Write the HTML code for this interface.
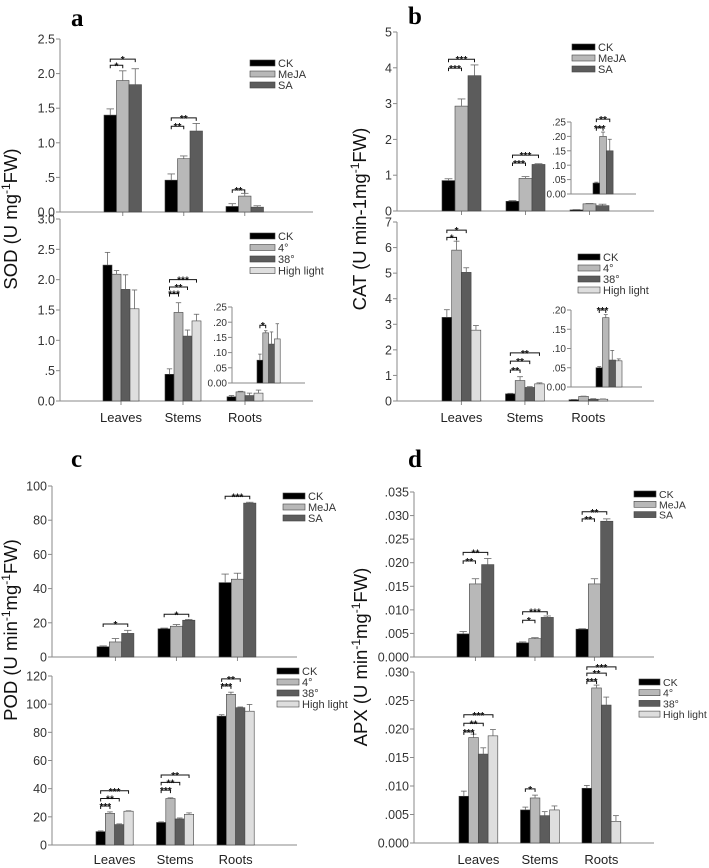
<!DOCTYPE html>
<html><head><meta charset="utf-8"><style>
html,body{margin:0;padding:0;background:#fff}
svg{display:block;font-family:"Liberation Sans",sans-serif}
</style></head><body>
<svg id="fig" width="709" height="868" viewBox="0 0 709 868"></svg>
<script>
const groups=["Leaves","Stems","Roots"];
const treat3=["CK","MeJA","SA"];
const treat4=["CK","4°","38°","High light"];
const colors3=["#000000","#b8b8b8","#5c5c5c"];
const colors4=["#000000","#b8b8b8","#5c5c5c","#dedede"];
// Panel a
const aTopCK=[1.40,0.46,0.08], aTopMeJA=[1.90,0.77,0.23], aTopSA=[1.84,1.17,0.07];
const aTopErrCK=[0.09,0.09,0.04], aTopErrMeJA=[0.14,0.04,0.04], aTopErrSA=[0.23,0.11,0.02];
const aBotCK=[2.24,0.44,0.07], aBot4=[2.09,1.46,0.15], aBot38=[1.84,1.07,0.09], aBotHL=[1.52,1.32,0.13];
const aBotErrCK=[0.21,0.09,0.02], aBotErr4=[0.06,0.16,0.01], aBotErr38=[0.24,0.10,0.04], aBotErrHL=[0.31,0.11,0.05];
const aInsetVals=[0.075,0.165,0.128,0.145], aInsetErr=[0.02,0.007,0.04,0.05];
const aTopTicks=[0,0.5,1,1.5,2,2.5], aTopTickLabels=["0.0",".5","1.0","1.5","2.0","2.5"];
const aBotTicks=[0,0.5,1,1.5,2,2.5,3], aBotTickLabels=["0.0",".5","1.0","1.5","2.0","2.5","3.0"];
const aInsetTicks=[0,0.05,0.1,0.15,0.2,0.25], aInsetTickLabels=["0.00",".05",".10",".15",".20",".25"];
// Panel b
const bTopCK=[0.85,0.27,0.03], bTopMeJA=[2.93,0.91,0.2], bTopSA=[3.78,1.30,0.15];
const bTopErrCK=[0.05,0.02,0.01], bTopErrMeJA=[0.20,0.05,0.01], bTopErrSA=[0.30,0.02,0.04];
const bBotCK=[3.27,0.28,0.05], bBot4=[5.90,0.80,0.18], bBot38=[5.03,0.53,0.07], bBotHL=[2.77,0.67,0.07];
const bBotErrCK=[0.30,0.02,0.01], bBotErr4=[0.35,0.15,0.01], bBotErr38=[0.18,0.03,0.02], bBotErrHL=[0.18,0.04,0.01];
const bInsetTopVals=[0.038,0.20,0.15], bInsetTopErr=[0.003,0.015,0.04];
const bInsetBotVals=[0.05,0.18,0.07,0.068], bInsetBotErr=[0.003,0.008,0.025,0.005];
const bTopTicks=[0,1,2,3,4,5], bTopTickLabels=["0","1","2","3","4","5"];
const bBotTicks=[0,1,2,3,4,5,6,7], bBotTickLabels=["0","1","2","3","4","5","6","7"];
const bInsetTopTicks=[0,0.05,0.1,0.15,0.2,0.25], bInsetTopTickLabels=["0.00",".05",".10",".15",".20",".25"];
const bInsetBotTicks=[0,0.05,0.1,0.15,0.2], bInsetBotTickLabels=["0.00",".05",".10",".15",".20"];
// Panel c
const cTopCK=[6,16.5,43.5], cTopMeJA=[8.8,18,45.5], cTopSA=[13.8,21.5,90];
const cTopErrCK=[0.5,0.4,5], cTopErrMeJA=[2,1,3.5], cTopErrSA=[1.8,0.5,0.5];
const cBotCK=[9.5,16,91.5], cBot4=[22.5,33,107], cBot38=[14.5,18.5,97.5], cBotHL=[24,21.8,95];
const cBotErrCK=[0.5,0.4,1], cBotErr4=[1,0.5,1.5], cBotErr38=[0.5,0.7,0.5], cBotErrHL=[0.3,1,4.8];
const cTopTicks=[0,20,40,60,80,100], cTopTickLabels=["0","20","40","60","80","100"];
const cBotTicks=[0,20,40,60,80,100,120], cBotTickLabels=["0","20","40","60","80","100","120"];
// Panel d
const dTopCK=[0.0049,0.0030,0.0059], dTopMeJA=[0.0155,0.0039,0.0155], dTopSA=[0.0196,0.0084,0.0288];
const dTopErrCK=[0.0005,0.0002,0.0001], dTopErrMeJA=[0.0011,0.0002,0.0011], dTopErrSA=[0.0013,0.0003,0.0005];
const dBotCK=[0.0082,0.0058,0.0096], dBot4=[0.0185,0.0079,0.0272], dBot38=[0.0156,0.0048,0.0242], dBotHL=[0.0188,0.0058,0.0038];
const dBotErrCK=[0.0009,0.0005,0.0005], dBotErr4=[0.0006,0.0005,0.0005], dBotErr38=[0.0011,0.0007,0.0014], dBotErrHL=[0.0011,0.0007,0.0010];
const dTopTicks=[0,0.005,0.01,0.015,0.02,0.025,0.03,0.035], dTopTickLabels=["0.000",".005",".010",".015",".020",".025",".030",".035"];
const dBotTicks=[0,0.005,0.01,0.015,0.02,0.025,0.03], dBotTickLabels=["0.000",".005",".010",".015",".020",".025",".030"];
// significance brackets: [group, barA, barB, level, label]
const aTopSig=[[0,0,1,2.12,"*"],[0,0,2,2.21,"*"],[1,0,1,1.24,"**"],[1,0,2,1.36,"**"],[2,0,1,0.32,"**"]];
const aBotSig=[[1,0,1,1.77,"***"],[1,0,2,1.88,"**"],[1,0,3,2.0,"***"]];
const aInsetSig=[[0,0,1,0.19,"*"]];
const bTopSig=[[0,0,1,3.99,"***"],[0,0,2,4.24,"***"],[1,0,1,1.34,"***"],[1,0,2,1.56,"***"]];
const bInsetTopSig=[[0,0,1,0.23,"***"],[0,0,2,0.26,"**"]];
const bBotSig=[[0,0,1,6.4,"*"],[0,0,2,6.68,"*"],[1,0,1,1.21,"**"],[1,0,2,1.56,"**"],[1,0,3,1.88,"**"]];
const bInsetBotSig=[[0,0,1,0.20,"***"]];
const cTopSig=[[0,0,2,19.3,"*"],[1,0,2,25,"*"],[2,0,2,94,"***"]];
const cBotSig=[[0,0,1,27.7,"***"],[0,0,2,33,"**"],[0,0,3,38.5,"***"],[1,0,1,39,"***"],[1,0,2,44.5,"**"],[1,0,3,49.7,"**"],[2,0,1,113,"***"],[2,0,2,118,"**"]];
const dTopSig=[[0,0,1,0.0204,"**"],[0,0,2,0.0222,"**"],[1,0,1,0.0078,"*"],[1,0,2,0.0096,"***"],[2,0,1,0.0293,"**"],[2,0,2,0.0308,"**"]];
const dBotSig=[[0,0,1,0.0195,"***"],[0,0,2,0.021,"**"],[0,0,3,0.0225,"***"],[1,0,1,0.0095,"*"],[2,0,1,0.0284,"***"],[2,0,2,0.0298,"**"],[2,0,3,0.0309,"***"]];

const svg=document.getElementById('fig');
const NS="http://www.w3.org/2000/svg";
function mk(tag,attrs,parent){const e=document.createElementNS(NS,tag);for(const k in attrs)e.setAttribute(k,attrs[k]);(parent||svg).appendChild(e);return e;}
function txt(s,attrs,parent){const e=mk('text',attrs,parent);e.textContent=s;return e;}

function plot(p){
  const g=mk('g',{});
  
  
  const ys=v=>p.y0-(v-p.ticks[0])/(p.max)*(p.y0-p.yTop);
  const fs=p.fs||12.5;
  const ya=mk('line',{x1:p.ax,y1:ys(p.max),x2:p.ax,y2:p.y0,stroke:'#8a8a8a','stroke-width':1},g);
  
  
  const xa=mk('line',{x1:p.ax,y1:p.y0,x2:p.axEnd,y2:p.y0,stroke:'#8a8a8a','stroke-width':1},g);
  
  
  p.ticks.forEach((t,i)=>{
    const y=ys(t);
    mk('line',{x1:p.ax-4,y1:y,x2:p.ax,y2:y,stroke:'#8a8a8a','stroke-width':1},g);
    const tl=txt(p.tickLabels[i],{x:p.ax-5,y:y+fs*0.36,'font-size':fs,'text-anchor':'end',fill:'#333'},g);
    
    
  });
  const nb=p.series.length;
  const bx=(gi,bi)=>p.firstX+gi*p.spacing+bi*p.barW;
  const ng=p.series[0].length;
  if(p.xticks){for(let gi=0;gi<ng;gi++){const cx=bx(gi,0)+nb*p.barW/2;mk('line',{x1:cx,y1:p.y0,x2:cx,y2:p.y0+4,stroke:'#8a8a8a'},g);}}
  p.series.forEach((vals,bi)=>{
    vals.forEach((v,gi)=>{
      const x=bx(gi,bi), y=ys(v);
      const r=mk('rect',{x:x,y:y,width:p.barW,height:p.y0-y,fill:p.colors[bi],stroke:'#444','stroke-width':0.6},g);
      
      
      const e=p.errs[bi][gi];
      if(e>0){const cx=x+p.barW/2, ye=ys(v+e);
        mk('line',{x1:cx,y1:y,x2:cx,y2:ye,stroke:'#666','stroke-width':0.8},g);
        mk('line',{x1:cx-p.barW*0.3,y1:ye,x2:cx+p.barW*0.3,y2:ye,stroke:'#666','stroke-width':0.8},g);}
    });
  });
  (p.sig||[]).forEach(s=>{
    const xa_=bx(s[0],s[1])+p.barW/2, xb_=bx(s[0],s[2])+p.barW/2, y=ys(s[3]);
    const br=mk('path',{d:`M${xa_} ${y+3}V${y}H${xb_}V${y+3}`,fill:'none',stroke:'#111','stroke-width':1},g);
    
    
    txt(s[4],{x:(xa_+xb_)/2,y:y+4,'font-size':10,'text-anchor':'middle',fill:'#111','font-weight':'bold'},g);
  });
  if(p.cats){groups.forEach((c,gi)=>{const cx=bx(gi,0)+nb*p.barW/2;
    const cl=txt(c,{x:cx,y:p.catY,'font-size':13,'text-anchor':'middle',fill:'#222'},g);
    
    });}
  if(p.legend){const L=p.legend;
    const lg=mk('g',{},g);
    
    
    L.labels.forEach((lab,i)=>{const y=L.y+i*L.stride;
      mk('rect',{x:L.x,y:y-3,width:L.w,height:6,fill:p.colors[i],stroke:'#444','stroke-width':0.6},lg);
      const le=txt(lab,{x:L.x+L.w+3,y:y+4,'font-size':L.fs||11,fill:'#333'},lg);
      
      });}
  return g;
}
function ytitle(s,x,y,name){const t=mk('text',{x:x,y:y,'font-size':18.5,'text-anchor':'middle',fill:'#111',transform:`rotate(-90 ${x} ${y})`});
  t.innerHTML=s;}
function plabel(s,x,y){const t=txt(s,{x:x,y:y,'font-size':25,'font-weight':'bold','font-family':'Liberation Serif, serif',fill:'#000'});
  }

plabel('a',71,26);
plot({name:'sod-hormone-plot',ax:60,axEnd:313,y0:212,yTop:39,max:2.5,ticks:aTopTicks,tickLabels:aTopTickLabels,firstX:104,spacing:61,barW:12.5,
  series:[aTopCK,aTopMeJA,aTopSA],errs:[aTopErrCK,aTopErrMeJA,aTopErrSA],colors:colors3,sig:aTopSig,xticks:true,
  legend:{x:250,y:63,stride:11,w:25,labels:treat3}});
plot({name:'sod-stress-plot',ax:60,axEnd:313,y0:401,yTop:219,max:3,ticks:aBotTicks,tickLabels:aBotTickLabels,firstX:103,spacing:62,barW:9,
  series:[aBotCK,aBot4,aBot38,aBotHL],errs:[aBotErrCK,aBotErr4,aBotErr38,aBotErrHL],colors:colors4,sig:aBotSig,xticks:true,cats:true,catY:422,
  legend:{x:250,y:236,stride:11.5,w:25,labels:treat4}});
plot({name:'sod-roots-inset',ax:232,axEnd:305,y0:383,yTop:307,max:0.25,ticks:aInsetTicks,tickLabels:aInsetTickLabels,fs:10,firstX:257,spacing:0,barW:5.8,
  series:[[aInsetVals[0]],[aInsetVals[1]],[aInsetVals[2]],[aInsetVals[3]]],errs:[[aInsetErr[0]],[aInsetErr[1]],[aInsetErr[2]],[aInsetErr[3]]],colors:colors4,sig:aInsetSig});
ytitle('SOD (U mg<tspan baseline-shift="super" font-size="12">-1</tspan>FW)',17,219,'sod-y-axis-title');

plabel('b',408,24);
plot({name:'cat-hormone-plot',ax:397,axEnd:654,y0:211,yTop:32,max:5,ticks:bTopTicks,tickLabels:bTopTickLabels,firstX:442,spacing:64,barW:13,
  series:[bTopCK,bTopMeJA,bTopSA],errs:[bTopErrCK,bTopErrMeJA,bTopErrSA],colors:colors3,sig:bTopSig,xticks:true,
  legend:{x:572,y:47,stride:11,w:23,labels:treat3}});
plot({name:'cat-hormone-inset',ax:571,axEnd:636,y0:194,yTop:122,max:0.25,ticks:bInsetTopTicks,tickLabels:bInsetTopTickLabels,fs:10,firstX:593,spacing:0,barW:6.7,
  series:[[bInsetTopVals[0]],[bInsetTopVals[1]],[bInsetTopVals[2]]],errs:[[bInsetTopErr[0]],[bInsetTopErr[1]],[bInsetTopErr[2]]],colors:colors3,sig:bInsetTopSig});
plot({name:'cat-stress-plot',ax:397,axEnd:654,y0:401,yTop:222,max:7,ticks:bBotTicks,tickLabels:bBotTickLabels,firstX:442,spacing:63.5,barW:9.7,
  series:[bBotCK,bBot4,bBot38,bBotHL],errs:[bBotErrCK,bBotErr4,bBotErr38,bBotErrHL],colors:colors4,sig:bBotSig,xticks:true,cats:true,catY:422,
  legend:{x:578,y:257,stride:11,w:22,labels:treat4}});
plot({name:'cat-stress-inset',ax:571,axEnd:642,y0:387,yTop:310,max:0.20,ticks:bInsetBotTicks,tickLabels:bInsetBotTickLabels,fs:10,firstX:596,spacing:0,barW:6.5,
  series:[[bInsetBotVals[0]],[bInsetBotVals[1]],[bInsetBotVals[2]],[bInsetBotVals[3]]],errs:[[bInsetBotErr[0]],[bInsetBotErr[1]],[bInsetBotErr[2]],[bInsetBotErr[3]]],colors:colors4,sig:bInsetBotSig});
ytitle('CAT (U min-1mg<tspan baseline-shift="super" font-size="12">-1</tspan>FW)',366,219,'cat-y-axis-title');

plabel('c',71,467);
plot({name:'pod-hormone-plot',ax:52,axEnd:297,y0:657,yTop:486,max:100,ticks:cTopTicks,tickLabels:cTopTickLabels,firstX:97,spacing:61,barW:12.3,
  series:[cTopCK,cTopMeJA,cTopSA],errs:[cTopErrCK,cTopErrMeJA,cTopErrSA],colors:colors3,sig:cTopSig,xticks:true,
  legend:{x:283,y:496,stride:11,w:22,labels:treat3}});
plot({name:'pod-stress-plot',ax:52,axEnd:297,y0:845,yTop:676,max:120,ticks:cBotTicks,tickLabels:cBotTickLabels,firstX:96,spacing:60.5,barW:9.3,
  series:[cBotCK,cBot4,cBot38,cBotHL],errs:[cBotErrCK,cBotErr4,cBotErr38,cBotErrHL],colors:colors4,sig:cBotSig,cats:true,catY:864,
  legend:{x:277,y:671,stride:11,w:22,labels:treat4}});
ytitle('POD (U min<tspan baseline-shift="super" font-size="12">-1</tspan>mg<tspan baseline-shift="super" font-size="12">-1</tspan>FW)',17,630,'pod-y-axis-title');

plabel('d',408,467);
plot({name:'apx-hormone-plot',ax:414,axEnd:654,y0:657,yTop:492,max:0.035,ticks:dTopTicks,tickLabels:dTopTickLabels,firstX:457,spacing:59.5,barW:12.3,
  series:[dTopCK,dTopMeJA,dTopSA],errs:[dTopErrCK,dTopErrMeJA,dTopErrSA],colors:colors3,sig:dTopSig,xticks:true,
  legend:{x:634,y:494,stride:10.3,w:22,labels:treat3,fs:10.5}});
plot({name:'apx-stress-plot',ax:414,axEnd:654,y0:843,yTop:672,max:0.030,ticks:dBotTicks,tickLabels:dBotTickLabels,firstX:459,spacing:61.5,barW:9.7,
  series:[dBotCK,dBot4,dBot38,dBotHL],errs:[dBotErrCK,dBotErr4,dBotErr38,dBotErrHL],colors:colors4,sig:dBotSig,cats:true,catY:864,
  legend:{x:639,y:682,stride:10.7,w:21,labels:treat4,fs:10.5}});
ytitle('APX (U min<tspan baseline-shift="super" font-size="12">-1</tspan>mg<tspan baseline-shift="super" font-size="12">-1</tspan>FW)',367,657,'apx-y-axis-title');
</script>
</body></html>
